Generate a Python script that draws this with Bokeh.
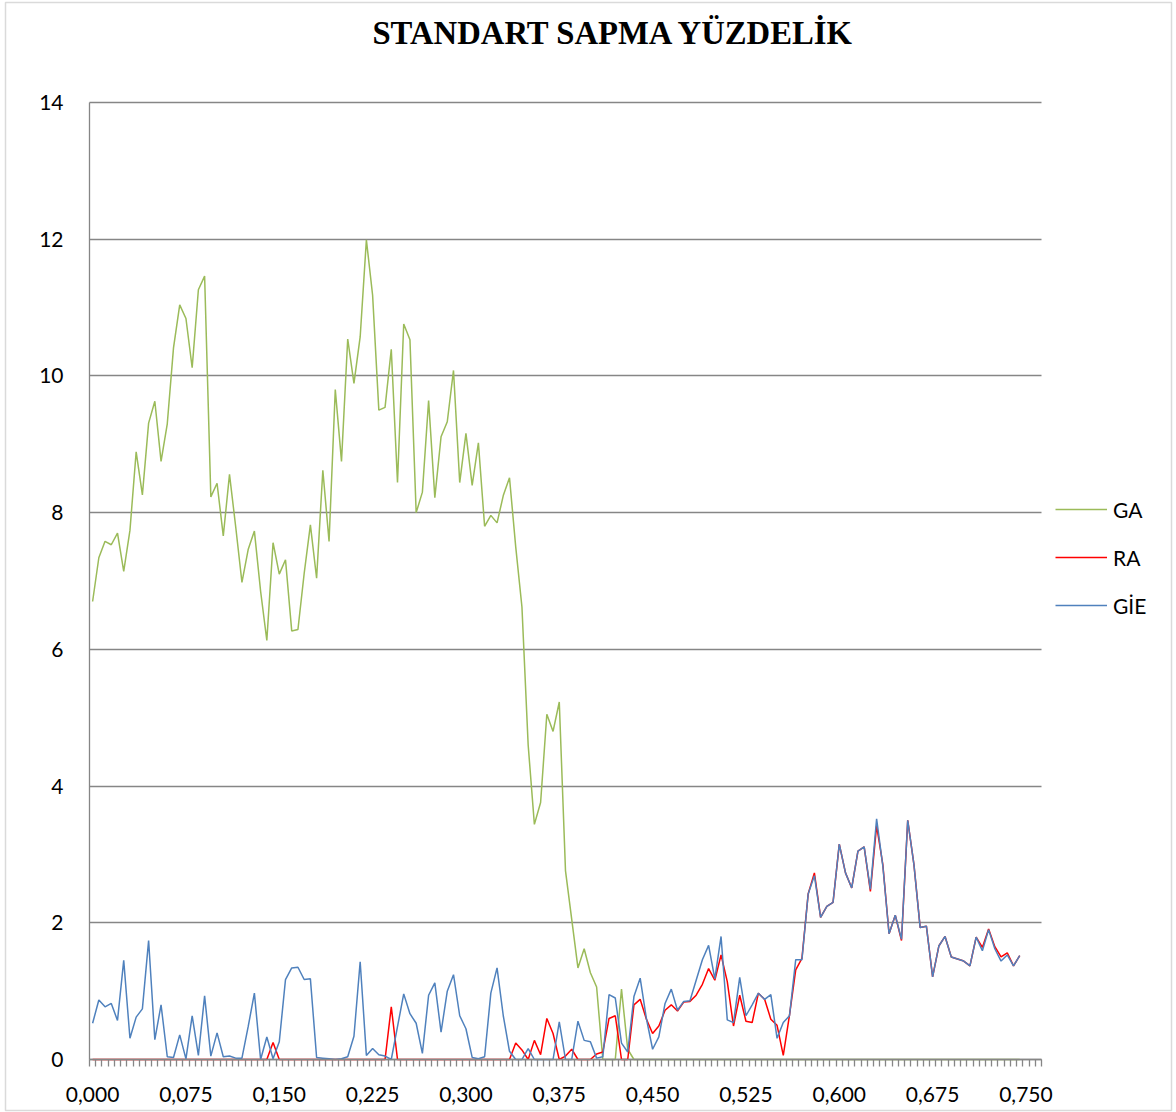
from bokeh.plotting import figure
from bokeh.models import (Range1d, FixedTicker, CustomJSTickFormatter, Legend,
                          LegendItem, Label, BoxAnnotation)
from bokeh.embed import file_html
from bokeh.resources import INLINE

# Category axis: one category every 0.005, labels every 15 categories
STEP = 0.005
N_CATEGORIES = 153
LABEL_EVERY = 15

ga = [6.70, 7.34, 7.58, 7.53, 7.70, 7.14, 7.74, 8.89, 8.26, 9.31,
      9.63, 8.75, 9.30, 10.41, 11.04, 10.84, 10.12, 11.26, 11.46, 8.23,
      8.43, 7.66, 8.56, 7.79, 6.98, 7.46, 7.73, 6.85, 6.13, 7.56,
      7.10, 7.31, 6.27, 6.29, 7.11, 7.82, 7.04, 8.62, 7.58, 9.80,
      8.75, 10.54, 9.89, 10.57, 11.99, 11.18, 9.50, 9.54, 10.39, 8.44,
      10.76, 10.53, 8.00, 8.30, 9.64, 8.22, 9.11, 9.33, 10.08, 8.44,
      9.16, 8.40, 9.02, 7.80, 7.96, 7.85, 8.25, 8.51, 7.50, 6.62,
      4.60, 3.44, 3.76, 5.05, 4.80, 5.23, 2.76, 2.05, 1.34, 1.62,
      1.27, 1.06, 0.00, 0.00, 0.00, 1.03, 0.15, 0.00, 0.00, 0.00,
      0.00, 0.00, 0.00, 0.00, 0.00, 0.00, 0.00, 0.00, 0.00, 0.00,
      0.00, 0.00, 0.00, 0.00, 0.00, 0.00, 0.00, 0.00, 0.00, 0.00,
      0.00, 0.00, 0.00, 0.00, 0.00, 0.00, 0.00, 0.00, 0.00, 0.00,
      0.00, 0.00, 0.00, 0.00, 0.00, 0.00, 0.00, 0.00, 0.00, 0.00,
      0.00, 0.00, 0.00, 0.00, 0.00, 0.00, 0.00, 0.00, 0.00, 0.00,
      0.00, 0.00, 0.00, 0.00, 0.00, 0.00, 0.00, 0.00, 0.00, 0.00]

ra = [0.00, 0.00, 0.00, 0.00, 0.00, 0.00, 0.00, 0.00, 0.00, 0.00,
      0.00, 0.00, 0.00, 0.00, 0.00, 0.00, 0.00, 0.00, 0.00, 0.00,
      0.00, 0.00, 0.00, 0.00, 0.00, 0.00, 0.00, 0.00, 0.00, 0.25,
      0.00, 0.00, 0.00, 0.00, 0.00, 0.00, 0.00, 0.00, 0.00, 0.00,
      0.00, 0.00, 0.00, 0.00, 0.00, 0.00, 0.00, 0.00, 0.77, 0.00,
      0.00, 0.00, 0.00, 0.00, 0.00, 0.00, 0.00, 0.00, 0.00, 0.00,
      0.00, 0.00, 0.00, 0.00, 0.00, 0.00, 0.00, 0.00, 0.24, 0.14,
      0.00, 0.28, 0.07, 0.60, 0.38, 0.00, 0.05, 0.15, 0.00, 0.00,
      0.00, 0.08, 0.11, 0.60, 0.64, 0.00, 0.00, 0.80, 0.88, 0.59,
      0.38, 0.49, 0.72, 0.80, 0.71, 0.84, 0.85, 0.94, 1.10, 1.33,
      1.16, 1.53, 1.14, 0.49, 0.94, 0.56, 0.54, 0.97, 0.88, 0.59,
      0.50, 0.06, 0.65, 1.31, 1.48, 2.42, 2.73, 2.08, 2.24, 2.30,
      3.15, 2.73, 2.51, 3.05, 3.11, 2.46, 3.42, 2.85, 1.84, 2.11,
      1.74, 3.50, 2.85, 1.93, 1.95, 1.21, 1.66, 1.80, 1.50, 1.47,
      1.44, 1.37, 1.79, 1.64, 1.91, 1.65, 1.50, 1.56, 1.37, 1.52]

gie = [0.53, 0.87, 0.77, 0.82, 0.57, 1.45, 0.31, 0.62, 0.74, 1.74,
       0.29, 0.80, 0.04, 0.03, 0.36, 0.01, 0.64, 0.06, 0.93, 0.05,
       0.39, 0.04, 0.05, 0.02, 0.02, 0.48, 0.97, 0.00, 0.33, 0.01,
       0.26, 1.17, 1.34, 1.35, 1.17, 1.18, 0.03, 0.02, 0.01, 0.00,
       0.01, 0.04, 0.34, 1.43, 0.06, 0.16, 0.07, 0.05, 0.00, 0.48,
       0.96, 0.67, 0.53, 0.09, 0.94, 1.12, 0.40, 1.00, 1.24, 0.64,
       0.45, 0.03, 0.01, 0.04, 0.97, 1.34, 0.64, 0.12, 0.00, 0.00,
       0.16, 0.00, 0.00, 0.00, 0.00, 0.55, 0.00, 0.00, 0.56, 0.28,
       0.26, 0.02, 0.04, 0.95, 0.90, 0.24, 0.11, 0.92, 1.19, 0.60,
       0.15, 0.33, 0.82, 1.03, 0.72, 0.85, 0.86, 1.16, 1.46, 1.67,
       1.18, 1.80, 0.58, 0.54, 1.20, 0.64, 0.80, 0.97, 0.88, 0.95,
       0.31, 0.54, 0.64, 1.46, 1.46, 2.42, 2.69, 2.08, 2.24, 2.30,
       3.15, 2.73, 2.51, 3.05, 3.11, 2.49, 3.52, 2.83, 1.84, 2.11,
       1.76, 3.50, 2.85, 1.93, 1.95, 1.21, 1.66, 1.80, 1.50, 1.47,
       1.44, 1.37, 1.79, 1.59, 1.90, 1.62, 1.44, 1.53, 1.37, 1.52]

series_names = ["GA", "RA", "GİE"]
series_colors = ["#9BBB59", "#FF0000", "#4F81BD"]
y_ticks = [0, 2, 4, 6, 8, 10, 12, 14]
Y_MAX = 14
title_text = "STANDART SAPMA YÜZDELİK"

x = [round(i * STEP, 3) for i in range(len(ga))]
x_label_ticks = [round(k * STEP, 3) for k in range(0, N_CATEGORIES, LABEL_EVERY)]
category_edges = [round((k - 0.5) * STEP, 4) for k in range(N_CATEGORIES + 1)]
X0 = round(-0.5 * STEP, 4)
X1 = round((N_CATEGORIES - 0.5) * STEP, 4)

# canvas and plot-area geometry (pixels)
W, H = 1176, 1112
PX0, PX1, PY0, PY1 = 89, 1041, 102, 1059

GRAY = "#868686"
FONT = "Lato"

# The frame fills the whole canvas; axes sit at fixed positions inside it,
# so the legend, title and chart border can be drawn anywhere on the canvas.
ux = (X1 - X0) / (PX1 - PX0)
uy = Y_MAX / (PY1 - PY0)
p = figure(width=W, height=H, output_backend="svg", toolbar_location=None,
           x_range=Range1d(X0 - PX0 * ux, X1 + (W - PX1) * ux),
           y_range=Range1d(-(H - PY1) * uy, Y_MAX + PY0 * uy),
           min_border=0, min_border_left=0, min_border_right=0,
           min_border_top=0, min_border_bottom=0)
p.outline_line_color = None
p.background_fill_color = "white"
p.border_fill_color = "white"

# x axis: labels every 15 categories, tick marks on every category edge
xa = p.xaxis[0]
xa.fixed_location = 0
xa.bounds = (X0, X1)
xa.ticker = FixedTicker(ticks=x_label_ticks, minor_ticks=category_edges)
xa.formatter = CustomJSTickFormatter(code="return tick.toFixed(3).replace('.', ',');")
xa.axis_line_color = GRAY
xa.axis_line_width = 1.3
xa.major_tick_line_color = None
xa.major_tick_in = 0
xa.major_tick_out = 0
xa.minor_tick_line_color = GRAY
xa.minor_tick_line_width = 1.3
xa.minor_tick_in = 0
xa.minor_tick_out = 7
xa.major_label_standoff = 20
xa.major_label_text_font = FONT
xa.major_label_text_font_size = "21px"
xa.major_label_text_color = "black"

ya = p.yaxis[0]
ya.fixed_location = X0
ya.bounds = (0, Y_MAX)
ya.ticker = FixedTicker(ticks=y_ticks)
ya.axis_line_color = GRAY
ya.axis_line_width = 1.3
ya.major_tick_line_color = None
ya.minor_tick_line_color = None
ya.major_tick_in = 0
ya.major_tick_out = 0
ya.major_label_standoff = 26
ya.major_label_text_font = FONT
ya.major_label_text_font_size = "21px"
ya.major_label_text_color = "black"

p.xgrid.visible = False
p.ygrid.ticker = FixedTicker(ticks=y_ticks)
p.ygrid.bounds = (0, Y_MAX)
p.ygrid.cross_bounds = (X0, X1)
p.ygrid.grid_line_color = GRAY
p.ygrid.grid_line_width = 1.3

renderers = []
for vals, color in zip([ga, ra, gie], series_colors):
    r = p.line(x, vals, line_color=color, line_width=1.5)
    renderers.append(r)

legend = Legend(items=[LegendItem(label=n, renderers=[r])
                       for n, r in zip(series_names, renderers)],
                location=(1055, 493))
legend.background_fill_alpha = 0
legend.border_line_color = None
legend.padding = 0
legend.margin = 0
legend.spacing = 20
legend.glyph_width = 52
legend.glyph_height = 28
legend.label_height = 28
legend.label_standoff = 6
legend.label_text_font = FONT
legend.label_text_font_size = "21px"
legend.label_text_color = "black"
p.add_layout(legend)

p.add_layout(Label(x=613.5, y=H - 32, x_units="screen", y_units="screen",
                   text=title_text, text_font="Liberation Serif",
                   text_font_style="bold", text_font_size="32.7px",
                   text_color="black", text_align="center",
                   text_baseline="alphabetic"))

# thin frame around the whole chart area
p.add_layout(BoxAnnotation(left=5, right=W - 5, bottom=2, top=H - 2,
                           left_units="screen", right_units="screen",
                           top_units="screen", bottom_units="screen",
                           fill_color=None, fill_alpha=0,
                           line_color=GRAY, line_width=1.5))

open("out.html", "w").write(file_html(p, INLINE))
